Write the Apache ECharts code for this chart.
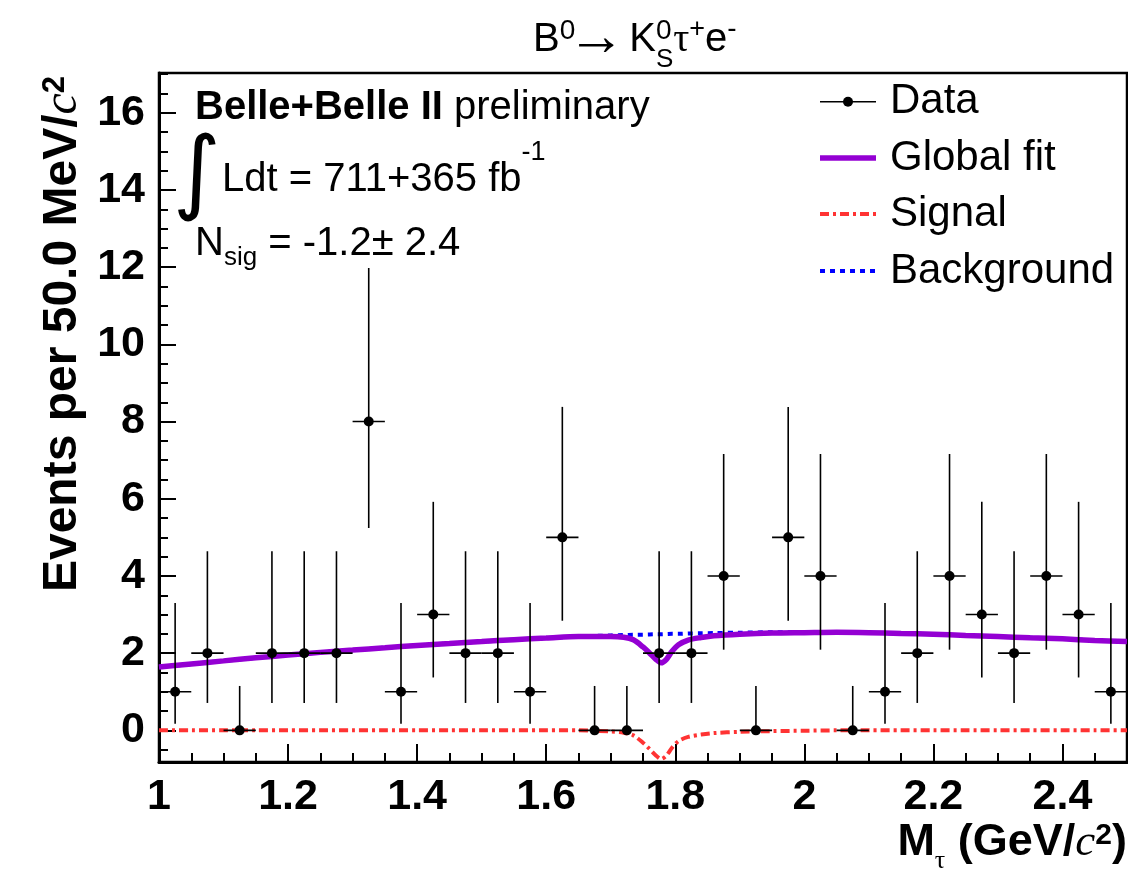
<!DOCTYPE html>
<html>
<head>
<meta charset="utf-8">
<script src="https://cdn.jsdelivr.net/npm/echarts@6/dist/echarts.min.js"></script>
<style>
html,body{margin:0;padding:0;background:#fff;}
#chart{width:1128px;height:876px;}
</style>
</head>
<body>
<div id="chart"></div>
<script>
// ---------------- data ----------------
const binCenters = [1.025,1.075,1.125,1.175,1.225,1.275,1.325,1.375,1.425,1.475,1.525,1.575,1.625,1.675,1.725,1.775,1.825,1.875,1.925,1.975,2.025,2.075,2.125,2.175,2.225,2.275,2.325,2.375,2.425,2.475];
const counts     = [1,2,0,2,2,2,8,1,3,2,2,1,5,0,0,2,2,4,0,5,4,0,1,2,4,3,2,4,3,1];
const errLowEdge = [0.17,0.71,0,0.71,0.71,0.71,5.24,0.17,1.37,0.71,0.71,0.17,2.84,0,0,0.71,0.71,2.09,0,2.84,2.09,0,0.17,0.71,2.09,1.37,0.71,2.09,1.37,0.17];
const errHighEdge= [3.30,4.64,1.15,4.64,4.64,4.64,11.98,3.30,5.92,4.64,4.64,3.30,8.38,1.15,1.15,4.64,4.64,7.16,1.15,8.38,7.16,1.15,3.30,4.64,7.16,5.92,4.64,7.16,5.92,3.30];
const binHalfWidth = 0.025;

const curveX = [1.00,1.05,1.10,1.15,1.20,1.25,1.30,1.35,1.40,1.45,1.50,1.55,1.60,1.65,1.70,1.72,1.735,1.75,1.76,1.77,1.778,1.786,1.795,1.805,1.82,1.84,1.86,1.90,1.95,2.00,2.05,2.10,2.15,2.20,2.25,2.30,2.35,2.40,2.45,2.50];
const backgroundY = [1.64,1.72,1.80,1.88,1.95,2.02,2.08,2.14,2.20,2.25,2.30,2.35,2.39,2.43,2.46,2.47,2.475,2.48,2.485,2.49,2.49,2.495,2.50,2.50,2.51,2.515,2.52,2.53,2.54,2.54,2.54,2.53,2.51,2.49,2.46,2.43,2.40,2.37,2.33,2.30];
const signalY = [0,0,0,0,0,0,0,0,0,0,0,0,0,0,-0.03,-0.06,-0.13,-0.32,-0.48,-0.65,-0.74,-0.66,-0.45,-0.28,-0.17,-0.11,-0.07,-0.04,-0.02,-0.01,0,0,0,0,0,0,0,0,0,0];
const globalFitY = [1.64,1.72,1.80,1.88,1.95,2.02,2.08,2.14,2.20,2.25,2.30,2.35,2.39,2.43,2.43,2.41,2.345,2.16,2.005,1.84,1.75,1.835,2.05,2.22,2.34,2.405,2.45,2.49,2.52,2.53,2.54,2.53,2.51,2.49,2.46,2.43,2.40,2.37,2.33,2.30];

const xTickValues = [1,1.2,1.4,1.6,1.8,2,2.2,2.4];
const yTickValues = [0,2,4,6,8,10,12,14,16];
const legendNames = ['Data','Global fit','Signal','Background'];

// ---------------- helpers ----------------
const SANS = "'Liberation Sans', Arial, Helvetica, sans-serif";
const SERIF = "'Liberation Serif', 'Times New Roman', serif";
const mctx = document.createElement('canvas').getContext('2d');
function fontStr(p){ return (p.it?'italic ':'normal ') + (p.w||'normal') + ' ' + p.s + 'px ' + (p.f||SANS); }
function textRun(pieces, ax, yc, align){
  const items = pieces.map(p => { const font = fontStr(p); mctx.font = font; return Object.assign({}, p, {font, width: mctx.measureText(p.t).width}); });
  let total = 0; items.forEach(it => { if(!it.noAdv) total += it.width; });
  let x = align==='right' ? ax-total : (align==='center' ? ax-total/2 : ax);
  const els = [];
  items.forEach(it => {
    els.push({type:'text', x:x+(it.dx||0), y:yc+(it.dy||0), silent:true,
      style:{text:it.t, font:it.font, fill:'#000', textAlign:'left', textVerticalAlign:'middle', align:'left', verticalAlign:'middle'}});
    if(!it.noAdv) x += it.width;
  });
  return els;
}

const xMinor = []; for(let i=1;i<30;i++){ xMinor.push(+(1+0.05*i).toFixed(2)); }
const yMinor = []; for(let i=-1;i<=34;i++){ yMinor.push(i*0.5); }

const dataPoints = binCenters.map((x,i)=>[x, counts[i], errLowEdge[i], errHighEdge[i]]);

// ---------------- graphic (texts & legend) ----------------
const graphics = [];
// title
graphics.push(...textRun([
  {t:'B',s:40},{t:'0',s:28,dy:-9},{t:'\u2192',s:58,dy:-1,dx:-8},{t:'K',s:40,dx:-4},
  {t:'0',s:28,dy:-9,noAdv:true,dx:-4},{t:'S',s:26,dy:20,dx:-4},{t:'\u03c4',s:40,f:SERIF,dx:-4},
  {t:'+',s:27,dy:-10,dx:-4},{t:'e',s:40,dx:-4},{t:'-',s:28,dy:-11,dx:-4}
], 533, 40, 'left'));
// annotation
graphics.push(...textRun([{t:'Belle+Belle II',s:40,w:'bold'},{t:' preliminary',s:40}], 195, 108, 'left'));
graphics.push({type:'text', x:197, y:178, silent:true, style:{text:'\u222b', font:"italic normal 92px 'DejaVu Sans'", fill:'#000', textAlign:'center', textVerticalAlign:'middle', align:'center', verticalAlign:'middle'}});
graphics.push(...textRun([{t:'Ldt = 711+365 fb',s:40},{t:'-1',s:27,dy:-27}], 222, 180, 'left'));
graphics.push(...textRun([{t:'N',s:40},{t:'sig',s:26,dy:14},{t:' = -1.2\u00b1 2.4',s:40}], 195, 244, 'left'));
// y-axis title (rotated)
graphics.push({type:'group', x:63, y:334, rotation:Math.PI/2, children: textRun([
  {t:'Events per 50.0 MeV/',s:48,w:'bold'},{t:'c',s:48,it:true,f:SERIF},{t:'2',s:31,w:'bold',dy:-8}
], 0, 0, 'center')});
// x-axis title
graphics.push(...textRun([
  {t:'M',s:45,w:'bold'},{t:'\u03c4',s:26,f:SERIF,dy:18},{t:' (GeV/',s:45,w:'bold'},
  {t:'c',s:45,it:true,f:SERIF},{t:'2',s:30,w:'bold',dy:-7},{t:')',s:45,w:'bold'}
], 1127, 843, 'right'));
// legend
const legRows = [101.7, 158, 214, 271];
graphics.push({type:'line', silent:true, shape:{x1:820,y1:legRows[0],x2:876,y2:legRows[0]}, style:{stroke:'#000',lineWidth:1.5}});
graphics.push({type:'circle', silent:true, shape:{cx:848,cy:legRows[0],r:5}, style:{fill:'#000'}});
graphics.push({type:'line', silent:true, shape:{x1:820,y1:legRows[1],x2:876,y2:legRows[1]}, style:{stroke:'#9400d3',lineWidth:5.5}});
graphics.push({type:'line', silent:true, shape:{x1:820,y1:legRows[2],x2:876,y2:legRows[2]}, style:{stroke:'#ff3333',lineWidth:4,lineDash:[9,4,3,4]}});
graphics.push({type:'line', silent:true, shape:{x1:820,y1:legRows[3],x2:876,y2:legRows[3]}, style:{stroke:'#0000ff',lineWidth:4,lineDash:[5,5]}});
legendNames.forEach((n,i)=>{ graphics.push(...textRun([{t:n,s:42}], 890, legRows[i], 'left')); });

// ---------------- chart ----------------
const chart = echarts.init(document.getElementById('chart'), null, {renderer:'canvas'});
const labelStyle = {fontSize:43, fontWeight:'bold', fontFamily:SANS, color:'#000', margin:14};
chart.setOption({
  animation:false,
  backgroundColor:'#fff',
  grid:{left:159, right:1, top:73, bottom:114, show:true, borderColor:'#000', borderWidth:2.5, containLabel:false},
  xAxis:[
    {type:'value', min:1, max:2.5, splitLine:{show:false},
     axisLine:{show:true, onZero:false, lineStyle:{color:'#000', width:3}},
     axisTick:{show:true, inside:true, length:18, customValues:xTickValues, lineStyle:{color:'#000', width:2}},
     axisLabel:Object.assign({customValues:xTickValues}, labelStyle)},
    {type:'value', min:1, max:2.5, position:'bottom', splitLine:{show:false},
     axisLine:{show:false, onZero:false},
     axisTick:{show:true, inside:true, length:9, customValues:xMinor, lineStyle:{color:'#000', width:2}},
     axisLabel:{show:false}}
  ],
  yAxis:[
    {type:'value', min:-0.82, max:17.03, splitLine:{show:false},
     axisLine:{show:true, onZero:false, lineStyle:{color:'#000', width:3}},
     axisTick:{show:true, inside:true, length:17, customValues:yTickValues, lineStyle:{color:'#000', width:2}},
     axisLabel:Object.assign({customValues:yTickValues}, labelStyle)},
    {type:'value', min:-0.82, max:17.03, position:'left', splitLine:{show:false},
     axisLine:{show:false, onZero:false},
     axisTick:{show:true, inside:true, length:9, customValues:yMinor, lineStyle:{color:'#000', width:2}},
     axisLabel:{show:false}}
  ],
  series:[
    {name:'Background', type:'line', data:curveX.map((x,i)=>[x,backgroundY[i]]), showSymbol:false, smooth:0.3, z:2,
     lineStyle:{color:'#0000ff', width:4, type:[5,5]}},
    {name:'Signal', type:'line', data:curveX.map((x,i)=>[x,signalY[i]]), showSymbol:false, smooth:0.3, z:3,
     lineStyle:{color:'#ff3333', width:4, type:[9,4,3,4]}},
    {name:'Global fit', type:'line', data:curveX.map((x,i)=>[x,globalFitY[i]]), showSymbol:false, smooth:0.3, z:4,
     lineStyle:{color:'#9400d3', width:5.5}},
    {name:'Data', type:'custom', z:10, data:dataPoints, encode:{x:0, y:1},
     renderItem:function(params, api){
       const x = api.value(0), y = api.value(1), lo = api.value(2), hi = api.value(3);
       const c = api.coord([x,y]), pLo = api.coord([x,lo]), pHi = api.coord([x,hi]);
       const pL = api.coord([x-binHalfWidth,y]), pR = api.coord([x+binHalfWidth,y]);
       return {type:'group', children:[
         {type:'line', shape:{x1:pLo[0],y1:pLo[1],x2:pHi[0],y2:pHi[1]}, style:{stroke:'#000',lineWidth:1.6}},
         {type:'line', shape:{x1:pL[0],y1:pL[1],x2:pR[0],y2:pR[1]}, style:{stroke:'#000',lineWidth:1.6}},
         {type:'circle', shape:{cx:c[0],cy:c[1],r:5}, style:{fill:'#000'}}
       ]};
     }}
  ],
  graphic:{elements:graphics}
});
</script>
</body>
</html>
